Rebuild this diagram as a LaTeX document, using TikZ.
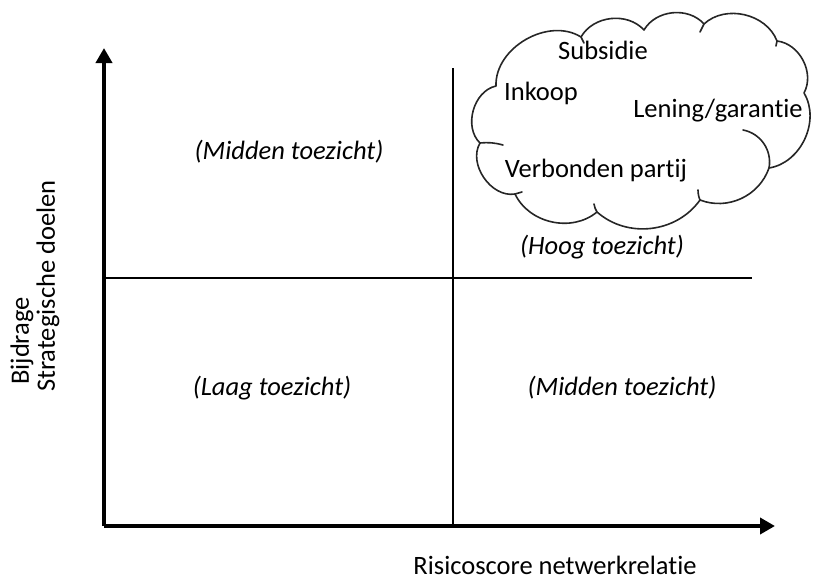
\documentclass[tikz,border=0pt]{standalone}
\usepackage{fontspec}
\setmainfont[Ligatures=NoCommon]{Carlito}
\usetikzlibrary{arrows.meta}
\tikzset{
  axis/.style={line width=4pt,-{Triangle[length=15pt,width=16pt]}},
  divider/.style={line width=1.2pt},
  lbl/.style={font=\fontsize{26.5}{30}\selectfont\itshape,inner sep=0pt},
  txt/.style={font=\fontsize{26.5}{30}\selectfont,inner sep=0pt},
  cloudline/.style={line width=1.6pt,line join=round,line cap=round,color=black!85}
}
\begin{document}
\begin{tikzpicture}[x=1pt,y=-1pt]
\path[use as bounding box] (0,0) rectangle (815,582);
% axes
\coordinate (O) at (104,526);
\coordinate (ytop) at (104,48);
\coordinate (xend) at (775,526);
\draw[axis] (O) -- (ytop);
\draw[axis] (O) -- (xend);
% dividers
\coordinate (vtop) at (453,68);
\coordinate (vbot) at (453,526);
\coordinate (hl) at (104,278);
\coordinate (hr) at (752,278);
\draw[divider] (vtop) -- (vbot);
\draw[divider] (hl) -- (hr);
% cloud
\coordinate (c1) at (496,86);
\coordinate (c2) at (581,37);
\coordinate (c3) at (644,30);
\coordinate (c4) at (704,24);
\coordinate (c5) at (777,41);
\coordinate (c6) at (804,93);
\coordinate (c7) at (769,168);
\coordinate (c8) at (700,200);
\coordinate (c9) at (597,212);
\coordinate (c10) at (515,194);
\coordinate (c11) at (480,143);
\draw[cloudline] (c1) to[bend left=62] (c2)
  to[bend left=54] (c3)
  to[bend left=54] (c4)
  to[bend left=56] (c5)
  to[bend left=56] (c6)
  to[bend left=56] (c7)
  to[bend left=46] (c8)
  to[bend left=48] (c9)
  to[bend left=52] (c10)
  to[bend left=65] (c11)
  to[bend left=62] (c1);
% inner strokes
\coordinate (h1) at (503,145);
\coordinate (h2) at (743,130);
\coordinate (h3) at (698,190);
\coordinate (h4) at (594,204);
\coordinate (h5) at (522,192);
\coordinate (h6) at (700,32);
\coordinate (h7) at (776,46);
\coordinate (h8) at (584,43);
\draw[cloudline] (c11) to[bend left=10] (h1);
\draw[cloudline] (h2) to[bend left=45] (c7);
\draw[cloudline] (c8) to[bend left=10] (h3);
\draw[cloudline] (c9) to[bend left=10] (h4);
\draw[cloudline] (c10) to[bend right=10] (h5);
\draw[cloudline] (c4) -- (h6);
\draw[cloudline] (c5) -- (h7);
\draw[cloudline] (c2) -- (h8);
% cloud texts
\node[txt] (subsidie) at (603,50) {Subsidie};
\node[txt] (inkoop) at (541,93) {Inkoop};
\node[txt] (lening) at (718,111) {Lening/garantie};
\node[txt] (verbonden) at (596,171) {Verbonden partij};
% quadrant labels
\node[lbl] (q1) at (289,152) {(Midden toezicht)};
\node[lbl] (q2) at (602,247) {(Hoog toezicht)};
\node[lbl] (q3) at (272,388) {(Laag toezicht)};
\node[lbl] (q4) at (622,388) {(Midden toezicht)};
% axis labels
\node[txt] (xlabel) at (555,565) {Risicoscore netwerkrelatie};
\node[txt,rotate=90,anchor=west] (ylab1) at (22,385) {Bijdrage};
\node[txt,rotate=90,anchor=west] (ylab2) at (48,392) {Strategische doelen};
\end{tikzpicture}
\end{document}
